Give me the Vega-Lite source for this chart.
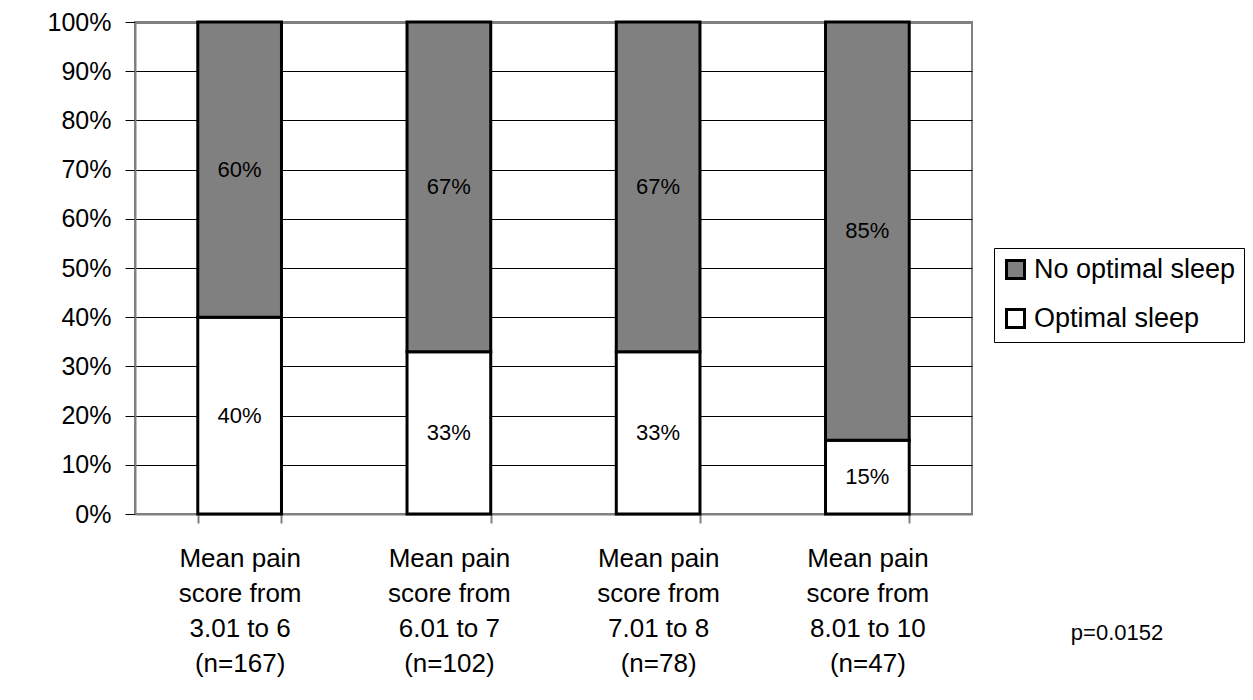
{
  "$schema": "https://vega.github.io/schema/vega-lite/v6.json",
  "autosize": {"type": "none"},
  "padding": {"left": 135, "top": 22, "right": 281, "bottom": 186},
  "width": 837,
  "height": 492,
  "background": "white",
  "title": {
    "text": "p=0.0152",
    "orient": "bottom",
    "anchor": "end",
    "frame": "group",
    "align": "center",
    "dx": 145,
    "dy": -57,
    "font": "Liberation Sans",
    "fontSize": 22,
    "fontWeight": "normal",
    "color": "black"
  },
  "config": {
    "font": "Liberation Sans",
    "view": {"stroke": "#808080", "strokeWidth": 2}
  },
  "data": {
    "values": [
      {"category": "Mean pain|score from|3.01 to 6|(n=167)", "status": "Optimal sleep", "value": 0.40},
      {"category": "Mean pain|score from|3.01 to 6|(n=167)", "status": "No optimal sleep", "value": 0.60},
      {"category": "Mean pain|score from|6.01 to 7|(n=102)", "status": "Optimal sleep", "value": 0.33},
      {"category": "Mean pain|score from|6.01 to 7|(n=102)", "status": "No optimal sleep", "value": 0.67},
      {"category": "Mean pain|score from|7.01 to 8|(n=78)", "status": "Optimal sleep", "value": 0.33},
      {"category": "Mean pain|score from|7.01 to 8|(n=78)", "status": "No optimal sleep", "value": 0.67},
      {"category": "Mean pain|score from|8.01 to 10|(n=47)", "status": "Optimal sleep", "value": 0.15},
      {"category": "Mean pain|score from|8.01 to 10|(n=47)", "status": "No optimal sleep", "value": 0.85}
    ]
  },
  "transform": [
    {
      "stack": "value",
      "groupby": ["category"],
      "sort": [{"field": "status", "order": "descending"}],
      "as": ["v0", "v1"]
    },
    {"calculate": "(datum.v0 + datum.v1) / 2", "as": "mid"}
  ],
  "encoding": {
    "x": {
      "field": "category",
      "type": "nominal",
      "sort": null,
      "title": null,
      "scale": {"paddingInner": 0.6, "paddingOuter": 0.3},
      "axis": {
        "labelExpr": "split(datum.label, '|')",
        "labelAngle": 0,
        "labelFontSize": 26,
        "labelLineHeight": 35,
        "labelColor": "black",
        "labelPadding": 22,
        "labelLimit": 300,
        "tickBand": "extent",
        "tickColor": "#808080",
        "tickWidth": 2,
        "tickSize": 9,
        "domainColor": "#808080",
        "domainWidth": 2
      }
    }
  },
  "layer": [
    {
      "mark": {"type": "bar", "stroke": "black", "strokeWidth": 3},
      "encoding": {
        "y": {
          "field": "v0",
          "type": "quantitative",
          "title": null,
          "scale": {"domain": [0, 1], "nice": false},
          "axis": {
            "values": [0, 0.1, 0.2, 0.3, 0.4, 0.5, 0.6, 0.7, 0.8, 0.9, 1],
            "format": ".0%",
            "labelFontSize": 25,
            "labelColor": "black",
            "labelPadding": 14,
            "tickSize": 10,
            "tickColor": "black",
            "tickWidth": 1,
            "domainColor": "#808080",
            "domainWidth": 2,
            "grid": true,
            "gridColor": {"condition": {"test": "datum.value === 1", "value": "#808080"}, "value": "black"},
            "gridWidth": {"condition": {"test": "datum.value === 1", "value": 3}, "value": 1},
            "gridOpacity": 1
          }
        },
        "y2": {"field": "v1"},
        "color": {
          "field": "status",
          "type": "nominal",
          "scale": {"domain": ["No optimal sleep", "Optimal sleep"], "range": ["#808080", "#ffffff"]},
          "legend": {
            "title": null,
            "orient": "none",
            "legendX": 859,
            "legendY": 226,
            "symbolType": "square",
            "symbolSize": 324,
            "symbolStrokeColor": "black",
            "symbolStrokeWidth": 3,
            "symbolOpacity": 1,
            "labelFontSize": 27,
            "labelColor": "black",
            "labelOffset": 5,
            "labelLimit": 400,
            "rowPadding": 18,
            "padding": 8,
            "strokeColor": "black",
            "fillColor": "white"
          }
        }
      }
    },
    {
      "mark": {"type": "text", "fontSize": 22, "color": "black"},
      "encoding": {
        "y": {"field": "mid", "type": "quantitative"},
        "text": {"field": "value", "type": "quantitative", "format": ".0%"},
        "detail": {"field": "status"}
      }
    }
  ]
}
